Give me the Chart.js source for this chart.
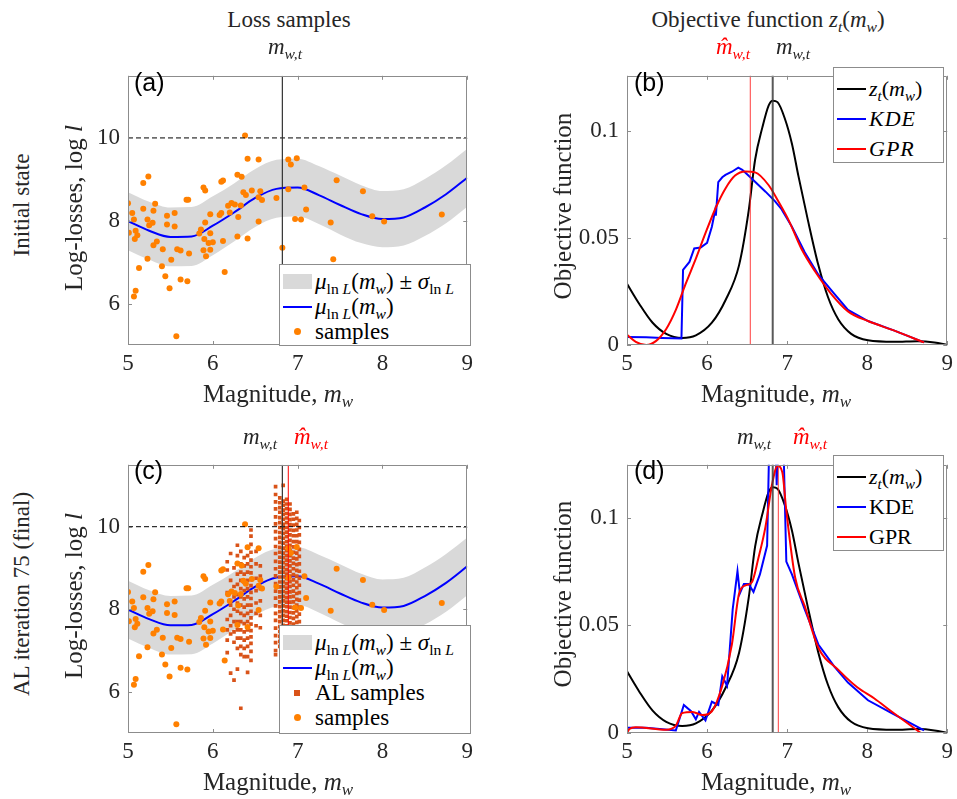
<!DOCTYPE html>
<html lang="en">
<head>
<meta charset="UTF-8">
<title>Loss samples and objective function</title>
<script src="https://cdn.jsdelivr.net/npm/chart.js"></script>
<style>
    body { margin: 0; background: #fff; }
    #fig { position: relative; width: 957px; height: 799px; font-family: "Liberation Serif", "Times New Roman", serif; color: #262626; overflow: hidden; }
    #fig canvas { position: absolute; }
    .t { position: absolute; white-space: nowrap; transform: translate(-50%, -50%); line-height: 1; }
    .rot { transform: translate(-50%, -50%) rotate(-90deg); }
    .i { font-style: italic; }
    sub { font-size: 68%; vertical-align: -0.32em; line-height: 0; }
    .tag { position: absolute; font-family: "Liberation Sans", Arial, sans-serif; font-size: 25px; color: #000; line-height: 1; }
    .leg { position: absolute; background: #fff; border: 1px solid #8c8c8c; box-sizing: border-box; color: #000; }
    .row { display: flex; align-items: center; white-space: nowrap; }
    .smp { display: inline-block; width: 29px; margin: 0 3px 0 3px; flex: none; position: relative; }
</style>
</head>
<body>
<div id="fig">
    <canvas id="cA" width="425" height="331" style="left:53px;top:54px"></canvas>
    <canvas id="cB" width="406" height="331" style="left:552px;top:54px"></canvas>
    <canvas id="cC" width="425" height="330" style="left:53px;top:443px"></canvas>
    <canvas id="cD" width="406" height="330" style="left:552px;top:443px"></canvas>

    <div class="t" style="left:289px;top:19px;font-size:23px">Loss samples</div>
    <div class="t" style="left:768px;top:19px;font-size:23px">Objective function <span class="i">z<sub>t</sub></span>(<span class="i">m<sub>w</sub></span>)</div>
    <div class="t rot" style="left:21px;top:205px;font-size:23px">Initial state</div>
    <div class="t rot" style="left:21px;top:594px;font-size:23px">AL iteration 75 (final)</div>

    <div class="t i" style="left:285px;top:46px;font-size:23px">m<sub>w,t</sub></div>
    <div class="t i" style="left:733px;top:46px;font-size:23px;color:#f00">m̂<sub>w,t</sub></div>
    <div class="t i" style="left:793px;top:46px;font-size:23px">m<sub>w,t</sub></div>
    <div class="t i" style="left:260px;top:436px;font-size:23px">m<sub>w,t</sub></div>
    <div class="t i" style="left:311px;top:436px;font-size:23px;color:#f00">m̂<sub>w,t</sub></div>
    <div class="t i" style="left:754px;top:436px;font-size:23px">m<sub>w,t</sub></div>
    <div class="t i" style="left:810px;top:436px;font-size:23px;color:#f00">m̂<sub>w,t</sub></div>

    <div class="t rot" style="left:73px;top:208px;font-size:25px">Log-losses, log <span class="i">l</span></div>
    <div class="t rot" style="left:73px;top:596px;font-size:25px">Log-losses, log <span class="i">l</span></div>
    <div class="t rot" style="left:562px;top:206px;font-size:25px">Objective function</div>
    <div class="t rot" style="left:562px;top:594px;font-size:25px">Objective function</div>
    <div class="t" style="left:278px;top:393px;font-size:25px">Magnitude, <span class="i">m<sub>w</sub></span></div>
    <div class="t" style="left:776px;top:393px;font-size:25px">Magnitude, <span class="i">m<sub>w</sub></span></div>
    <div class="t" style="left:278px;top:781px;font-size:25px">Magnitude, <span class="i">m<sub>w</sub></span></div>
    <div class="t" style="left:776px;top:781px;font-size:25px">Magnitude, <span class="i">m<sub>w</sub></span></div>

    <div class="tag" style="left:134px;top:70px">(a)</div>
    <div class="tag" style="left:634px;top:70px">(b)</div>
    <div class="tag" style="left:134px;top:458px">(c)</div>
    <div class="tag" style="left:634px;top:458px">(d)</div>

    <!-- legends -->
    <div class="leg" style="left:279px;top:264px;width:192px;height:82px;font-size:23px;padding-top:4px">
        <div class="row" style="height:25px"><span class="smp" style="height:15px;background:#d9d9d9"></span><span><span class="i">μ</span><sub>ln <span class="i">L</span></sub>(<span class="i">m<sub>w</sub></span>) ± <span class="i">σ</span><sub>ln <span class="i">L</span></sub></span></div>
        <div class="row" style="height:25px"><span class="smp" style="height:2px;background:#0000ff"></span><span><span class="i">μ</span><sub>ln <span class="i">L</span></sub>(<span class="i">m<sub>w</sub></span>)</span></div>
        <div class="row" style="height:25px"><span class="smp" style="height:7px"><span style="position:absolute;left:11px;top:0;width:7px;height:7px;border-radius:50%;background:#ff8000"></span></span><span>samples</span></div>
    </div>
    <div class="leg" style="left:279px;top:625px;width:192px;height:109px;font-size:23px;padding-top:4px">
        <div class="row" style="height:25px"><span class="smp" style="height:15px;background:#d9d9d9"></span><span><span class="i">μ</span><sub>ln <span class="i">L</span></sub>(<span class="i">m<sub>w</sub></span>) ± <span class="i">σ</span><sub>ln <span class="i">L</span></sub></span></div>
        <div class="row" style="height:25px"><span class="smp" style="height:2px;background:#0000ff"></span><span><span class="i">μ</span><sub>ln <span class="i">L</span></sub>(<span class="i">m<sub>w</sub></span>)</span></div>
        <div class="row" style="height:25px"><span class="smp" style="height:6px"><span style="position:absolute;left:11px;top:0;width:6px;height:6px;background:#d95319"></span></span><span>AL samples</span></div>
        <div class="row" style="height:25px"><span class="smp" style="height:7px"><span style="position:absolute;left:11px;top:0;width:7px;height:7px;border-radius:50%;background:#ff8000"></span></span><span>samples</span></div>
    </div>
    <div class="leg" style="left:833px;top:67px;width:111px;height:96px;font-size:22px;padding-top:6px">
        <div class="row" style="height:30px"><span class="smp" style="height:2px;background:#000"></span><span><span class="i">z<sub>t</sub></span>(<span class="i">m<sub>w</sub></span>)</span></div>
        <div class="row" style="height:30px"><span class="smp" style="height:2px;background:#0000ff"></span><span class="i" style="letter-spacing:1px">KDE</span></div>
        <div class="row" style="height:30px"><span class="smp" style="height:2px;background:#ff0000"></span><span class="i" style="letter-spacing:1px">GPR</span></div>
    </div>
    <div class="leg" style="left:833px;top:455px;width:111px;height:96px;font-size:22px;padding-top:6px">
        <div class="row" style="height:30px"><span class="smp" style="height:2px;background:#000"></span><span><span class="i">z<sub>t</sub></span>(<span class="i">m<sub>w</sub></span>)</span></div>
        <div class="row" style="height:30px"><span class="smp" style="height:2px;background:#0000ff"></span><span>KDE</span></div>
        <div class="row" style="height:30px"><span class="smp" style="height:2px;background:#ff0000"></span><span>GPR</span></div>
    </div>
</div>

<script>
    // ---- data ----
    const magTicks = [5, 6, 7, 8, 9];
    const lossTicks = [6, 8, 10];
    const objTicks = [0, 0.05, 0.1];

    // GP mean and std of ln L
    const magGrid = [5, 5.25, 5.5, 5.75, 6, 6.25, 6.5, 6.75, 7, 7.25, 7.5, 7.75, 8, 8.25, 8.5, 8.75, 9];
    const muLnL = [7.99, 7.76, 7.61, 7.62, 7.88, 8.20, 8.55, 8.77, 8.80, 8.62, 8.38, 8.16, 8.04, 8.08, 8.32, 8.64, 9.04];
    const sigLnL = [0.70, 0.70, 0.71, 0.71, 0.71, 0.70, 0.70, 0.70, 0.70, 0.70, 0.71, 0.70, 0.68, 0.68, 0.69, 0.70, 0.70];

    const threshold = 10;
    const mwt = 6.82;
    const mhatInit = 6.54;
    const mhatFinal = 6.89;

    // initial loss samples
    const sampM = [6.38, 6.41, 6.54, 5.24, 5.18, 5.00, 5.32, 5.05, 5.18, 5.30, 5.07, 5.23, 5.29, 5.25, 5.46, 5.55, 5.46, 5.55, 5.01, 5.09,
        5.11, 5.08, 5.34, 5.30, 5.41, 5.23, 5.13, 5.40, 5.44, 5.51, 5.58, 5.62, 5.72, 5.62, 5.70, 5.49, 5.09, 5.07, 5.57, 5.69,
        5.71, 5.89, 5.91, 5.86, 5.84, 5.91, 5.97, 5.97, 5.90, 5.95, 6.00, 5.89, 5.97, 5.92, 6.08, 6.10, 6.10, 6.12, 6.20, 6.18,
        6.22, 6.26, 6.30, 6.33, 6.29, 6.34, 6.36, 6.39, 6.46, 6.56, 6.54, 6.58, 6.75, 6.29, 6.41, 6.54, 6.12, 6.14, 6.82, 6.89,
        6.89, 6.92, 6.99, 6.97, 7.04, 7.08, 7.10, 7.46, 7.77, 7.39, 7.88, 8.02, 8.70, 7.42];
    const sampL = [10.06, 9.50, 9.48, 9.07, 8.91, 8.42, 8.41, 8.19, 8.29, 8.24, 8.03, 8.03, 7.95, 7.89, 8.12, 8.19, 7.91, 7.86, 7.71, 7.76,
        7.65, 7.56, 7.50, 7.41, 7.31, 7.08, 6.86, 6.90, 6.66, 7.06, 7.31, 7.28, 7.21, 6.58, 6.54, 6.37, 6.31, 6.17, 5.21, 8.51,
        8.51, 8.80, 8.73, 7.79, 7.69, 7.96, 8.16, 7.70, 7.56, 7.46, 7.48, 7.29, 7.30, 7.14, 8.14, 8.19, 8.94, 8.97, 8.20, 8.36,
        8.43, 8.39, 8.09, 8.37, 9.11, 9.06, 8.69, 8.62, 8.73, 8.71, 8.57, 8.50, 8.55, 7.62, 7.57, 7.98, 7.51, 6.76, 7.35, 8.76,
        9.48, 9.36, 9.51, 8.04, 8.03, 8.80, 8.27, 8.98, 8.71, 7.96, 8.11, 7.98, 8.15, 7.07];

    // active-learning samples, one column of losses per magnitude
    const alMag = [6.17, 6.21, 6.25, 6.29, 6.33, 6.37, 6.41, 6.45, 6.51, 6.56, 6.74, 6.79, 6.83, 6.87, 6.91, 6.95, 6.99, 7.02];
    const alLoss = [
        [9.15, 8.95, 8.40, 7.75, 7.50, 7.25, 6.95],
        [9.35, 8.70, 8.10, 7.85, 7.60, 7.40, 6.45],
        [9.00, 8.55, 8.30, 8.00, 7.70, 7.45, 7.20, 6.28],
        [9.55, 9.30, 8.85, 8.60, 8.35, 8.15, 7.95, 7.70, 7.50, 7.30, 7.05, 6.55],
        [9.40, 9.10, 8.90, 8.70, 8.50, 8.30, 8.10, 7.90, 7.70, 7.50, 7.30, 7.10, 6.90, 5.60],
        [9.25, 9.05, 8.85, 8.65, 8.45, 8.25, 8.05, 7.85, 7.65, 7.45, 7.25, 7.05, 6.85],
        [9.30, 9.10, 8.90, 8.70, 8.50, 8.30, 8.10, 7.90, 7.70, 7.50, 7.30, 7.10, 6.85, 6.47],
        [9.92, 9.77, 9.57, 9.38, 9.19, 9.03, 8.88, 8.72, 8.57, 8.41, 8.26, 8.10, 7.95, 7.79, 7.64, 7.48, 7.33, 7.17, 6.98, 6.76],
        [9.40, 9.10, 8.75, 8.45, 8.15, 7.90, 7.60],
        [9.05, 8.80, 8.50, 8.20, 7.85, 7.55],
        [10.97, 10.78, 10.60, 10.43, 10.24, 10.07, 9.88, 9.71, 9.52, 9.35, 9.16, 8.98, 8.81, 8.62, 8.44, 8.27, 8.08, 7.90, 7.73, 7.54, 7.36, 7.19, 7.00, 6.90],
        [10.70, 10.58, 10.46, 10.35, 10.22, 10.10, 9.98, 9.86, 9.74, 9.62, 9.50, 9.38, 9.26, 9.14, 9.02, 8.90, 8.78, 8.66, 8.54, 8.42, 8.30, 8.18, 8.06, 7.94, 7.82, 7.70, 7.58, 7.46, 7.34, 7.22, 7.10],
        [11.00, 10.62, 10.52, 10.40, 10.30, 10.18, 10.06, 9.95, 9.84, 9.72, 9.60, 9.48, 9.36, 9.25, 9.13, 9.01, 8.90, 8.78, 8.66, 8.55, 8.43, 8.31, 8.20, 8.08, 7.96, 7.85, 7.73, 7.61, 7.50, 7.38, 7.26, 7.15],
        [10.66, 10.55, 10.44, 10.32, 10.21, 10.10, 9.98, 9.87, 9.76, 9.64, 9.53, 9.42, 9.30, 9.19, 9.08, 8.96, 8.85, 8.74, 8.62, 8.51, 8.40, 8.28, 8.17, 8.06, 7.94, 7.83, 7.72, 7.60, 7.49, 7.38, 7.26, 7.15],
        [10.55, 10.42, 10.30, 10.17, 10.05, 9.92, 9.80, 9.67, 9.55, 9.42, 9.30, 9.17, 9.05, 8.92, 8.80, 8.67, 8.55, 8.42, 8.30, 8.17, 8.05, 7.92, 7.80, 7.67, 7.55, 7.42, 7.30, 7.17],
        [10.31, 10.18, 10.04, 9.91, 9.78, 9.64, 9.51, 9.38, 9.24, 9.11, 8.98, 8.84, 8.71, 8.58, 8.44, 8.31, 8.18, 8.04, 7.91, 7.78, 7.64, 7.51, 7.38, 7.24, 7.11],
        [10.35, 10.20, 10.06, 9.92, 9.78, 9.64, 9.50, 9.36, 9.22, 9.08, 8.94, 8.80, 8.66, 8.52, 8.38, 8.24, 8.10, 7.96, 7.82, 7.68, 7.54, 7.40, 7.26, 7.12],
        [10.15, 9.98, 9.80, 9.62, 9.45, 9.28, 9.10, 8.92, 8.75, 8.58, 8.40, 8.22, 8.05, 7.88, 7.70, 7.52, 7.35, 7.18]
    ];

    // objective function z_t(m_w), same in both rows
    const zMag = [5.00, 5.15, 5.32, 5.49, 5.69, 5.86, 6.06, 6.23, 6.40, 6.52, 6.60, 6.69, 6.77, 6.82, 6.88, 6.97, 7.06, 7.14, 7.26, 7.39, 7.51, 7.64, 7.80, 8.01, 8.34, 8.63, 8.84, 9.00];
    const zVal = [0.0286, 0.0194, 0.0104, 0.0052, 0.0033, 0.0045, 0.0104, 0.0209, 0.0373, 0.0627, 0.0865, 0.1015, 0.1119, 0.1141, 0.1134, 0.1059, 0.0940, 0.0791, 0.0582, 0.0373, 0.0224, 0.0119, 0.0052, 0.0022, 0.0015, 0.0018, 0.0012, 0.0];

    // initial state estimates
    const kdeInitMag = [5.00, 5.24, 5.44, 5.68, 5.70, 5.78, 5.84, 5.92, 6.00, 6.06, 6.10, 6.11, 6.14, 6.19, 6.23, 6.31, 6.39, 6.44, 6.56, 6.73, 6.85, 6.93, 7.06, 7.22, 7.39, 7.59, 7.76, 8.01, 8.34, 8.71];
    const kdeInitVal = [0.0037, 0.0036, 0.0033, 0.0030, 0.0351, 0.0388, 0.0451, 0.0455, 0.0477, 0.0552, 0.0627, 0.0604, 0.0761, 0.0783, 0.0794, 0.0809, 0.0828, 0.0818, 0.0776, 0.0716, 0.0671, 0.0634, 0.0552, 0.0433, 0.0328, 0.0239, 0.0164, 0.0112, 0.0067, 0.0012];
    const gprInitMag = [5.00, 5.11, 5.24, 5.36, 5.49, 5.61, 5.73, 5.86, 5.98, 6.11, 6.23, 6.35, 6.48, 6.60, 6.77, 6.89, 7.02, 7.18, 7.35, 7.55, 7.76, 8.01, 8.34, 8.71];
    const gprInitVal = [0.0048, 0.0015, 0.0, 0.0018, 0.0075, 0.0164, 0.0283, 0.0403, 0.0522, 0.0642, 0.0731, 0.0791, 0.0810, 0.0806, 0.0746, 0.0671, 0.0582, 0.0448, 0.0343, 0.0239, 0.0157, 0.0112, 0.0067, 0.0012];

    // final estimates
    const kdeFinalMag = [5.00, 5.24, 5.61, 5.71, 5.80, 5.86, 5.90, 5.98, 6.06, 6.14, 6.19, 6.25, 6.32, 6.38, 6.41, 6.46, 6.52, 6.58, 6.66, 6.75, 6.78, 6.85, 6.87, 6.89, 6.95, 6.99, 7.06, 7.22, 7.39, 7.59, 7.76, 8.01, 8.30, 8.71];
    const kdeFinalVal = [0.0024, 0.0024, 0.0012, 0.0130, 0.0101, 0.0064, 0.0098, 0.0059, 0.0145, 0.0130, 0.0263, 0.0219, 0.0574, 0.0751, 0.0648, 0.0692, 0.0692, 0.0655, 0.0736, 0.0870, 0.1400, 0.1400, 0.1150, 0.1400, 0.1400, 0.0796, 0.0736, 0.0574, 0.0411, 0.0308, 0.0234, 0.0152, 0.0093, 0.0012];
    const gprFinalMag = [5.00, 5.03, 5.11, 5.49, 5.61, 5.69, 5.82, 5.94, 6.06, 6.19, 6.31, 6.40, 6.48, 6.56, 6.64, 6.73, 6.81, 6.88, 6.94, 6.99, 7.10, 7.22, 7.39, 7.64, 7.88, 8.09, 8.30, 8.67];
    const gprFinalVal = [0.0, 0.0019, 0.0027, 0.0015, 0.0034, 0.0093, 0.0098, 0.0083, 0.0101, 0.0219, 0.0411, 0.0648, 0.0685, 0.0700, 0.0810, 0.0958, 0.1151, 0.1240, 0.1210, 0.1032, 0.0722, 0.0589, 0.0396, 0.0293, 0.0211, 0.0160, 0.0101, 0.0];

    // ---- helpers ----
    const pts = (xs, ys) => xs.map((x, i) => ({ x: x, y: ys[i] }));
    const serif = "'Liberation Serif', 'Times New Roman', serif";
    const frameCol = '#8c8c8c';

    const framePlugin = {
        id: 'frame',
        afterDraw(chart) {
            const ctx = chart.ctx;
            const a = chart.chartArea;
            const sx = chart.scales.x, sy = chart.scales.y;
            ctx.save();
            ctx.strokeStyle = frameCol;
            ctx.lineWidth = 1;
            ctx.beginPath();
            ctx.rect(Math.round(a.left) + 0.5, Math.round(a.top) + 0.5, Math.round(a.right - a.left) - 1, Math.round(a.bottom - a.top) - 1);
            sx.ticks.forEach(t => {
                const p = Math.round(sx.getPixelForValue(t.value)) + 0.5;
                ctx.moveTo(p, a.bottom); ctx.lineTo(p, a.bottom - 4);
                ctx.moveTo(p, a.top); ctx.lineTo(p, a.top + 4);
            });
            sy.ticks.forEach(t => {
                const p = Math.round(sy.getPixelForValue(t.value)) + 0.5;
                ctx.moveTo(a.left, p); ctx.lineTo(a.left + 4, p);
                ctx.moveTo(a.right, p); ctx.lineTo(a.right - 4, p);
            });
            ctx.stroke();
            ctx.restore();
        }
    };

    function options(yMin, yMax, yTicks, yWidth) {
        return {
            responsive: false,
            animation: false,
            layout: { padding: { top: 10, right: 8, left: 0, bottom: 0 } },
            plugins: { legend: { display: false }, tooltip: { enabled: false } },
            elements: { point: { radius: 0 }, line: { borderWidth: 2 } },
            scales: {
                x: {
                    type: 'linear', min: 5, max: 9,
                    afterBuildTicks: s => { s.ticks = magTicks.map(v => ({ value: v })); },
                    afterFit: s => { s.height = 40; },
                    grid: { display: false, drawTicks: false },
                    border: { display: false },
                    ticks: { font: { family: serif, size: 23 }, color: '#262626', padding: 5, maxRotation: 0 }
                },
                y: {
                    type: 'linear', min: yMin, max: yMax,
                    afterBuildTicks: s => { s.ticks = yTicks.map(v => ({ value: v })); },
                    afterFit: s => { s.width = yWidth; },
                    grid: { display: false, drawTicks: false },
                    border: { display: false },
                    ticks: { font: { family: serif, size: 23 }, color: '#262626', padding: 8,
                        callback: v => String(Math.round(v * 1000) / 1000) }
                }
            }
        };
    }

    function lossDatasets(withAL, mhat) {
        const upper = muLnL.map((v, i) => v + sigLnL[i]);
        const lower = muLnL.map((v, i) => v - sigLnL[i]);
        const ds = [
            { data: pts(magGrid, upper), fill: '+1', backgroundColor: '#d9d9d9', borderWidth: 0, cubicInterpolationMode: 'monotone', order: 9 },
            { data: pts(magGrid, lower), fill: false, borderWidth: 0, cubicInterpolationMode: 'monotone', order: 10 },
            { data: pts(magGrid, muLnL), borderColor: '#0000ff', borderWidth: 2, fill: false, cubicInterpolationMode: 'monotone', order: 6 },
            { data: pts(sampM, sampL), showLine: false, pointRadius: 3, pointBackgroundColor: '#ff8000', pointBorderWidth: 0, order: 3 },
            { data: [{ x: 5, y: threshold }, { x: 9, y: threshold }], borderColor: '#000', borderWidth: 1, borderDash: [5, 3], order: 2 },
            { data: [{ x: mwt, y: 5 }, { x: mwt, y: 11.5 }], borderColor: '#333', borderWidth: 1.2, order: 0 }
        ];
        if (withAL) {
            const alPts = [];
            alMag.forEach((m, i) => alLoss[i].forEach(l => alPts.push({ x: m, y: l })));
            ds.push({ data: alPts, showLine: false, pointStyle: 'rect', pointRadius: 2.6, pointBackgroundColor: '#d95319', pointBorderWidth: 0, order: 4 });
            ds.push({ data: [{ x: mhat, y: 5 }, { x: mhat, y: 11.5 }], borderColor: '#ff0000', borderWidth: 1, order: 1 });
        }
        return ds;
    }

    function objDatasets(kM, kV, gM, gV, mhat) {
        return [
            { data: pts(zMag, zVal), borderColor: '#000', borderWidth: 2, cubicInterpolationMode: 'monotone', order: 5 },
            { data: pts(kM, kV), borderColor: '#0000ff', borderWidth: 2, order: 4 },
            { data: pts(gM, gV), borderColor: '#ff0000', borderWidth: 2, cubicInterpolationMode: 'monotone', order: 3 },
            { data: [{ x: mwt, y: 0 }, { x: mwt, y: 0.2 }], borderColor: 'rgba(60,60,60,0.85)', borderWidth: 2, order: 1 },
            { data: [{ x: mhat, y: 0 }, { x: mhat, y: 0.2 }], borderColor: 'rgba(255,40,40,0.9)', borderWidth: 1, order: 0 }
        ];
    }

    new Chart(document.getElementById('cA'), {
        type: 'line', data: { datasets: lossDatasets(false, mhatInit) },
        options: options(5, 11.5, lossTicks, 75), plugins: [framePlugin]
    });
    new Chart(document.getElementById('cC'), {
        type: 'line', data: { datasets: lossDatasets(true, mhatFinal) },
        options: options(5, 11.5, lossTicks, 75), plugins: [framePlugin]
    });
    new Chart(document.getElementById('cB'), {
        type: 'line', data: { datasets: objDatasets(kdeInitMag, kdeInitVal, gprInitMag, gprInitVal, mhatInit) },
        options: options(0, 0.1257, objTicks, 75), plugins: [framePlugin]
    });
    new Chart(document.getElementById('cD'), {
        type: 'line', data: { datasets: objDatasets(kdeFinalMag, kdeFinalVal, gprFinalMag, gprFinalVal, mhatFinal) },
        options: options(0, 0.1245, objTicks, 75), plugins: [framePlugin]
    });
</script>
</body>
</html>
